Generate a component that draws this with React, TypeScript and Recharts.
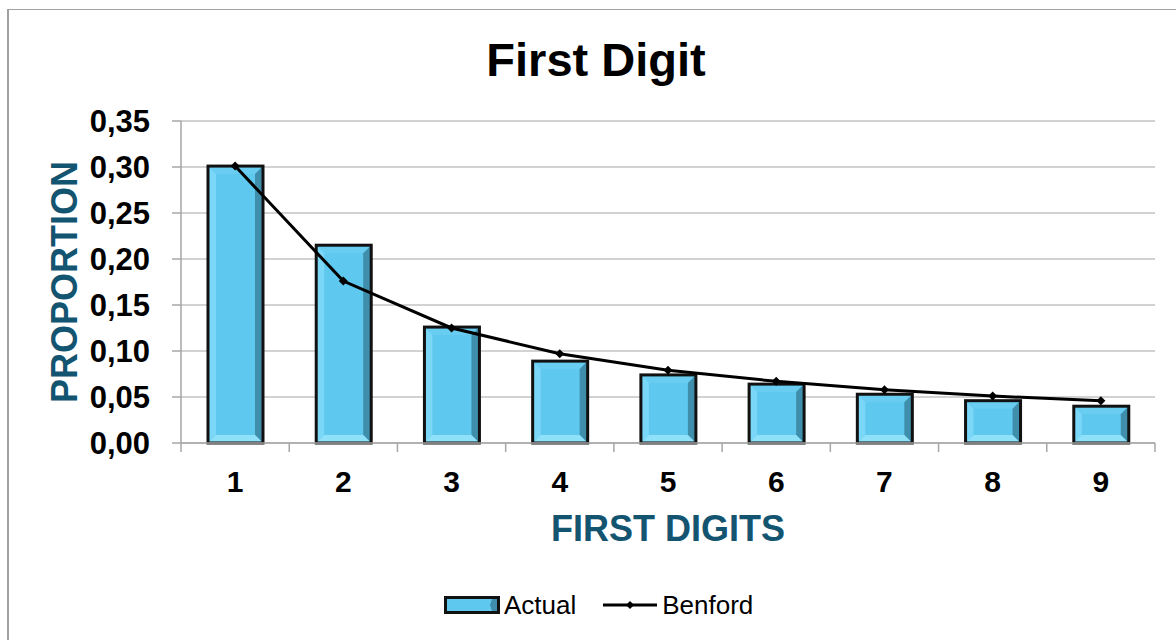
import React from 'react';
import { ComposedChart, Bar, Line, XAxis, YAxis, CartesianGrid, Legend } from 'recharts';

const digits = ['1', '2', '3', '4', '5', '6', '7', '8', '9'];
const actual = [0.301, 0.215, 0.126, 0.089, 0.074, 0.064, 0.053, 0.046, 0.040];
const benford = [0.301, 0.176, 0.125, 0.097, 0.079, 0.067, 0.058, 0.051, 0.046];
const yTicks = [0, 0.05, 0.1, 0.15, 0.2, 0.25, 0.3, 0.35];

const data = digits.map((d, i) => ({ digit: d, Actual: actual[i], Benford: benford[i] }));

const FONT = '"Liberation Sans", Arial, sans-serif';
const TITLE_BLUE = '#135470';
const GRID = '#a6a6a6';

const BevelBar = (props: any) => {
  const { x, y, width: w, height: h } = props;
  if (!w || !h || h <= 0) return null;
  const b = Math.min(8, w / 2, h / 2);
  return (
    <g>
      <rect x={x} y={y} width={w} height={h} fill="#5ec8ee" />
      <polygon points={`${x},${y} ${x + w},${y} ${x + w - b},${y + b} ${x + b},${y + b}`} fill="#68cdf1" />
      <polygon points={`${x},${y} ${x + b},${y + b} ${x + b},${y + h - b} ${x},${y + h}`} fill="#7ad7f7" />
      <polygon points={`${x + w},${y} ${x + w},${y + h} ${x + w - b},${y + h - b} ${x + w - b},${y + b}`} fill="#3f8eab" />
      <polygon points={`${x},${y + h} ${x + w},${y + h} ${x + w - b},${y + h - b} ${x + b},${y + h - b}`} fill="#8fe1f9" />
      <rect x={x} y={y} width={w} height={h} fill="none" stroke="#111" strokeWidth={3} />
    </g>
  );
};

const Diamond = (props: any) => {
  const { cx, cy } = props;
  if (cx == null || cy == null) return null;
  const r = 4.5;
  return <path d={`M${cx},${cy - r}L${cx + r},${cy}L${cx},${cy + r}L${cx - r},${cy}Z`} fill="#000" />;
};

const X_TICK_SIZE = 9;
const X_TICK_MARGIN = 19;

const XTick = (props: any) => {
  const { x, y, payload, index, visibleTicksCount, width } = props;
  const half = payload && payload.offset ? payload.offset : width / visibleTicksCount / 2;
  const axisY = y - X_TICK_SIZE - X_TICK_MARGIN;
  return (
    <g>
      <line x1={x - half} x2={x - half} y1={axisY} y2={axisY + X_TICK_SIZE} stroke={GRID} strokeWidth={1.5} />
      {index === visibleTicksCount - 1 && (
        <line x1={x + half} x2={x + half} y1={axisY} y2={axisY + X_TICK_SIZE} stroke={GRID} strokeWidth={1.5} />
      )}
      <text x={x} y={y} dy="0.71em" textAnchor="middle" fontFamily={FONT} fontSize={30} fontWeight="bold" fill="#000">
        {payload.value}
      </text>
    </g>
  );
};

const LegendContent = () => (
  <div style={{ display: 'flex', alignItems: 'center', height: 30, fontFamily: FONT, fontSize: 26, color: '#000' }}>
    <svg width={56} height={18} style={{ display: 'block' }}>
      <rect x={1.5} y={1.5} width={53} height={15} fill="#5ec8ee" stroke="#111" strokeWidth={3} />
      <polygon points="48,3 53,3 53,15 48,15 46,9" fill="#3f8eab" />
    </svg>
    <span style={{ marginLeft: 4 }}>Actual</span>
    <svg width={56} height={18} style={{ display: 'block', marginLeft: 26 }}>
      <line x1={1} x2={55} y1={9} y2={9} stroke="#000" strokeWidth={3} />
      <path d="M28,5L32,9L28,13L24,9Z" fill="#000" />
    </svg>
    <span style={{ marginLeft: 4 }}>Benford</span>
  </div>
);

export default function App() {
  return (
    <div style={{ position: 'absolute', left: 0, top: 0, width: 1176, height: 640, overflow: 'hidden', background: '#fff' }}>
      <div
        style={{
          position: 'absolute',
          left: 7,
          top: 9,
          width: 1300,
          height: 800,
          borderTop: '1.5px solid #a0a0a0',
          borderLeft: '2px solid #a0a0a0',
        }}
      />
      <div
        style={{
          position: 'absolute',
          left: 0,
          top: 36,
          width: 1192,
          textAlign: 'center',
          fontFamily: FONT,
          fontSize: 47,
          fontWeight: 'bold',
          lineHeight: '47px',
          color: '#000',
        }}
      >
        First Digit
      </div>
      <div style={{ position: 'absolute', left: 0, top: 0 }}>
        <ComposedChart
          width={1176}
          height={640}
          data={data}
          margin={{ top: 121, right: 21, bottom: 57, left: 61 }}
        >
          <CartesianGrid vertical={false} stroke={GRID} strokeWidth={1.2} />
          <XAxis
            dataKey="digit"
            height={110}
            axisLine={{ stroke: GRID, strokeWidth: 1.5 }}
            tickLine={false}
            tickSize={X_TICK_SIZE}
            tickMargin={X_TICK_MARGIN}
            interval={0}
            tick={<XTick />}
            label={{
              content: (p: any) => {
                const vb = p.viewBox;
                return (
                  <text
                    x={vb.x + vb.width / 2}
                    y={vb.y + 98}
                    textAnchor="middle"
                    fontFamily={FONT}
                    fontSize={36}
                    fontWeight="bold"
                    fill={TITLE_BLUE}
                  >
                    FIRST DIGITS
                  </text>
                );
              },
            }}
          />
          <YAxis
            width={120}
            domain={[0, 0.35]}
            ticks={yTicks}
            interval={0}
            axisLine={{ stroke: GRID, strokeWidth: 1.5 }}
            tickLine={{ stroke: GRID, strokeWidth: 1.5 }}
            tickSize={9}
            tickMargin={22}
            tickFormatter={(v: number) => v.toFixed(2).replace('.', ',')}
            tick={{ fill: '#000', fontSize: 31, fontWeight: 'bold', fontFamily: FONT }}
            label={{
              content: (p: any) => {
                const vb = p.viewBox;
                const cx = vb.x + 16;
                const cy = vb.y + vb.height / 2;
                return (
                  <text
                    x={cx}
                    y={cy}
                    transform={`rotate(-90, ${cx}, ${cy})`}
                    textAnchor="middle"
                    fontFamily={FONT}
                    fontSize={36}
                    fontWeight="bold"
                    fill={TITLE_BLUE}
                  >
                    PROPORTION
                  </text>
                );
              },
            }}
          />
          <Legend
            verticalAlign="bottom"
            content={<LegendContent />}
            wrapperStyle={{ left: 444, top: 590, width: 340, height: 30 }}
          />
          <Bar dataKey="Actual" barSize={55} shape={<BevelBar />} isAnimationActive={false} />
          <Line
            dataKey="Benford"
            type="linear"
            stroke="#000"
            strokeWidth={3}
            dot={<Diamond />}
            activeDot={false}
            isAnimationActive={false}
          />
        </ComposedChart>
      </div>
    </div>
  );
}
